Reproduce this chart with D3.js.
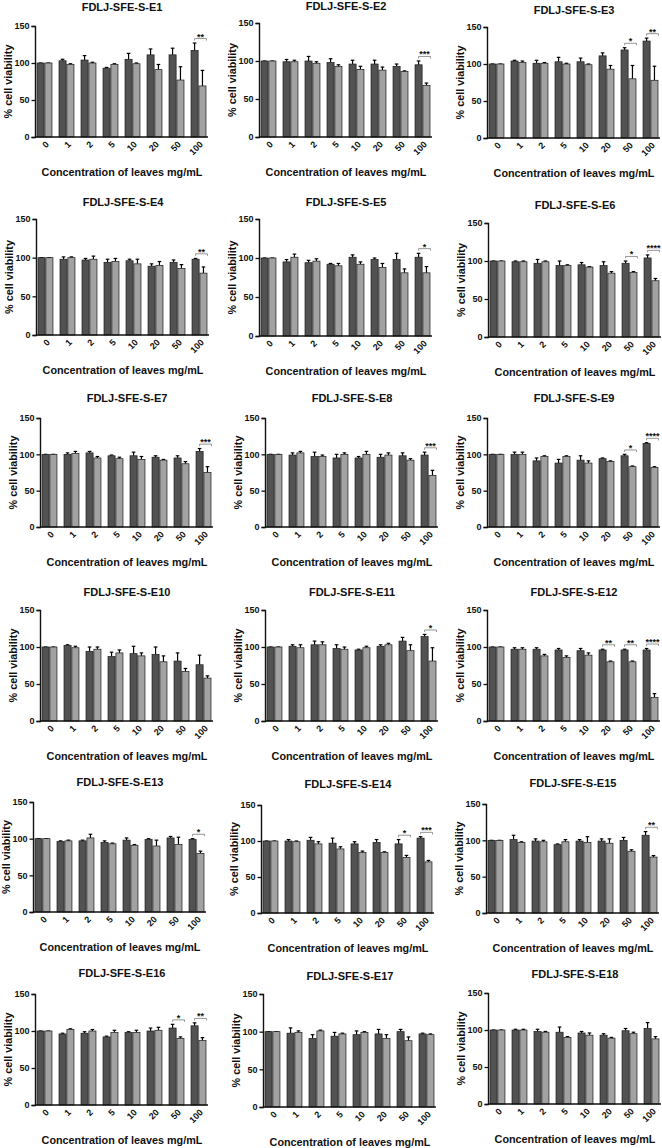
<!DOCTYPE html>
<html><head><meta charset="utf-8">
<script src="https://cdn.jsdelivr.net/npm/d3@7"></script>
<style>
body{margin:0;background:#fff}
text{font-family:"Liberation Sans",Arial,sans-serif;font-weight:bold;fill:#111}
</style>
</head><body><svg id="c" width="662" height="1148"></svg>
<script>
// ---------- DATA ----------
const concentrations = ["0","1","2","5","10","20","50","100"];
const yTicks = [0, 50, 100, 150];
const panelNames = ["FDLJ-SFE-S-E1","FDLJ-SFE-S-E2","FDLJ-SFE-S-E3","FDLJ-SFE-S-E4","FDLJ-SFE-S-E5","FDLJ-SFE-S-E6",
  "FDLJ-SFE-S-E7","FDLJ-SFE-S-E8","FDLJ-SFE-S-E9","FDLJ-SFE-S-E10","FDLJ-SFE-S-E11","FDLJ-SFE-S-E12",
  "FDLJ-SFE-S-E13","FDLJ-SFE-S-E14","FDLJ-SFE-S-E15","FDLJ-SFE-S-E16","FDLJ-SFE-S-E17","FDLJ-SFE-S-E18"];
const xTitle = "Concentration of leaves mg/mL";
const yTitle = "% cell viability";

const darkMeans = [
  [100,103,104,93,105,111,111,117],
  [100,99,100,98,96,96,93,95],
  [100,104,101,103,103,111,119,131],
  [100,98,97,94,96,89,94,98],
  [100,95,94,92,101,98,98,101],
  [100,99,97,94,95,94,97,104],
  [100,100,102,98,98,96,95,104],
  [100,99,97,95,95,96,98,99],
  [100,100,91,88,92,94,98,115],
  [100,102,94,87,91,90,81,76],
  [100,101,103,98,96,101,108,114],
  [100,97,97,96,95,96,96,96],
  [100,96,97,95,98,99,101,99],
  [100,100,101,97,96,98,96,104],
  [100,101,99,94,99,99,100,107],
  [100,96,97,92,98,100,104,107],
  [100,98,91,94,96,97,100,97],
  [100,100,98,97,96,93,99,102]
];
const darkErrors = [
  [0,2,6,1,8,8,9,10],
  [0,3,6,5,5,5,3,5],
  [0,1,4,6,5,4,3,4],
  [0,3,2,4,2,3,3,1],
  [0,3,3,1,3,2,8,5],
  [0,1,5,6,3,5,3,4],
  [0,2,2,1,5,2,3,4],
  [0,3,6,5,2,4,4,4],
  [0,3,4,5,6,1,2,1],
  [0,1,6,6,10,10,11,13],
  [0,2,5,5,1,2,5,3],
  [0,2,2,2,3,1,1,2],
  [0,1,1,2,3,1,2,1],
  [0,2,4,7,3,4,6,2],
  [0,6,3,1,2,3,4,5],
  [0,1,2,1,1,4,5,4],
  [0,7,5,5,5,6,3,1],
  [0,1,3,7,2,2,3,8]
];
const lightMeans = [
  [100,98,100,98,99,91,77,69],
  [100,99,97,93,89,88,86,68],
  [100,102,101,100,99,93,80,78],
  [100,100,98,95,92,90,86,80],
  [100,101,96,90,92,88,81,81],
  [100,99,99,94,92,84,85,74],
  [100,101,95,94,93,92,87,75],
  [100,102,97,100,100,99,92,71],
  [100,100,97,97,88,90,83,82],
  [100,99,97,92,88,80,67,58],
  [100,99,103,97,99,103,95,81],
  [100,97,88,86,89,80,80,32],
  [100,97,101,93,91,90,92,80],
  [100,99,96,89,84,84,77,71],
  [100,97,98,98,97,96,85,77],
  [100,102,100,98,98,101,90,87],
  [100,99,101,97,99,91,88,96],
  [100,100,97,90,93,89,95,88]
];
const lightErrors = [
  [0,1,1,1,1,7,18,21],
  [0,2,2,2,4,4,1,3],
  [0,2,1,1,1,5,18,19],
  [0,1,4,4,6,5,5,8],
  [0,4,3,3,3,5,5,8],
  [0,1,1,1,0.5,2,1,3],
  [0,3,2,2,4,1,3,8],
  [0,2,2,2,4,3,2,7],
  [0,3,1,1,3,1,1,1],
  [0,2,3,4,4,8,4,3],
  [0,4,4,3,2,2,8,18],
  [0,2,2,2,3,1,1,5],
  [0,1,5,1,1,8,10,3],
  [0,1,3,3,2,1,3,2],
  [0,1,2,3,8,6,2,2],
  [0,1,2,3,3,4,2,4],
  [0,2,1,1,1,5,5,1],
  [0,1,1,1,3,1,2,3]
];
// significance label per concentration ("" = none)
const sigLabels = [
  ["","","","","","","","**"],
  ["","","","","","","","***"],
  ["","","","","","","*","**"],
  ["","","","","","","","**"],
  ["","","","","","","","*"],
  ["","","","","","","*","****"],
  ["","","","","","","","***"],
  ["","","","","","","","***"],
  ["","","","","","","*","****"],
  ["","","","","","","",""],
  ["","","","","","","","*"],
  ["","","","","","**","**","****"],
  ["","","","","","","","*"],
  ["","","","","","","*","***"],
  ["","","","","","","","**"],
  ["","","","","","","*","**"],
  ["","","","","","","",""],
  ["","","","","","","",""]
];

// ---------- LAYOUT (positions only) ----------
// [titleBaselineY, axisX, yOf150, yOf0]
const layout = [
  [11,35,26,137],[10,259,23,137],[14,487,27,138],
  [206,36,219,335],[206,259,219,336],[209,488,223,337],
  [402,40,418,527],[402,265,418,527],[402,487,418,527],
  [596,40,610,721],[596,265,610,721],[596,487,610,721],
  [786,33,802,912],[788,261,805,913],[787,486,804,913],
  [977,35,994,1105],[980,263,994,1107],[978,488,993,1104]
];
const plotW = 171;
const darkColor = "#525252", lightColor = "#a2a2a2";
const FONT = "Liberation Sans, Arial, sans-serif";

const svg = d3.select("#c");

panelNames.forEach((name, i) => {
  const [ty, ax, yt, yb] = layout[i];
  const g = svg.append("g");
  const y = d3.scaleLinear().domain([0,150]).range([yb, yt]);
  const x = d3.scaleBand().domain(concentrations).range([ax+2, ax+plotW]).paddingInner(0.32).paddingOuter(0);
  const xs = d3.scaleBand().domain(["dark","light"]).range([0, x.bandwidth()]).paddingInner(0.1);
  const cx = ax + 87;

  g.append("text").attr("x", cx).attr("y", ty).attr("text-anchor","middle")
    .attr("font-size", 11).text(name);

  const rows = concentrations.map((c, k) => ({c,
    vals: [{s:"dark", m: darkMeans[i][k], e: darkErrors[i][k]},
           {s:"light", m: lightMeans[i][k], e: lightErrors[i][k]}],
    sig: sigLabels[i][k]}));

  const grp = g.selectAll(".grp").data(rows).join("g")
    .attr("transform", d => `translate(${x(d.c)},0)`);
  const bar = grp.selectAll(".b").data(d => d.vals).join("g");
  bar.append("line")
    .attr("x1", d => xs(d.s) + xs.bandwidth()/2).attr("x2", d => xs(d.s) + xs.bandwidth()/2)
    .attr("y1", d => y(d.m)).attr("y2", d => y(d.m + d.e))
    .attr("stroke", "#000").attr("stroke-width", 1.2);
  bar.append("line")
    .attr("x1", d => xs(d.s) + xs.bandwidth()/2 - 1.8).attr("x2", d => xs(d.s) + xs.bandwidth()/2 + 1.8)
    .attr("y1", d => y(d.m + d.e)).attr("y2", d => y(d.m + d.e))
    .attr("stroke", "#000").attr("stroke-width", 1.2);
  bar.append("rect")
    .attr("x", d => xs(d.s)).attr("width", xs.bandwidth())
    .attr("y", d => y(d.m)).attr("height", d => y(0) - y(d.m))
    .attr("fill", d => d.s === "dark" ? darkColor : lightColor)
    .attr("stroke", "#1a1a1a").attr("stroke-width", 0.7);

  // significance brackets
  grp.filter(d => d.sig !== "").each(function(d){
    const top = d3.max(d.vals, v => v.m + v.e) + 6;
    const yy = y(top);
    const x1 = xs("dark") + xs.bandwidth()/2, x2 = xs("light") + xs.bandwidth() + 0.5;
    const s = d3.select(this);
    s.append("path").attr("d", `M${x1},${yy+2}V${yy}H${x2}V${yy+2}`)
      .attr("fill","none").attr("stroke","#8a8a8a").attr("stroke-width",0.9);
    s.append("text").attr("x", (x1+x2)/2).attr("y", yy+1).attr("text-anchor","middle")
      .attr("font-size", 9).text(d.sig);
  });

  // axes
  const yAxis = d3.axisLeft(y).tickValues(yTicks).tickSize(3.5).tickPadding(2);
  const ya = g.append("g").attr("transform", `translate(${ax},0)`).call(yAxis);
  ya.select(".domain").attr("stroke","#111").attr("stroke-width",1.4);
  ya.selectAll(".tick line").attr("stroke","#111").attr("stroke-width",1.3);
  ya.selectAll("text").attr("font-size", 9).attr("font-family",FONT).attr("font-weight","bold").attr("fill","#111");

  const xAxis = d3.axisBottom(x).tickSize(0).tickPadding(0);
  const xa = g.append("g").attr("transform", `translate(0,${yb})`).call(xAxis);
  xa.select(".domain").attr("d", `M${ax},0H${ax+plotW+2}`).attr("stroke","#111").attr("stroke-width",1.4);
  xa.selectAll("text").attr("font-size", 9).attr("font-family",FONT).attr("font-weight","bold").attr("fill","#111")
    .attr("text-anchor","end").attr("dy", null).attr("y", 0)
    .attr("transform", "translate(5,8) rotate(-45)");

  g.append("text").attr("x", cx).attr("y", yb + 39).attr("text-anchor","middle")
    .attr("font-size", 10.8).text(xTitle);
  g.append("text").attr("transform", `translate(${ax-23},${(yt+yb)/2}) rotate(-90)`)
    .attr("text-anchor","middle").attr("font-size", 10.8).text(yTitle);
});
</script>
</body></html>
